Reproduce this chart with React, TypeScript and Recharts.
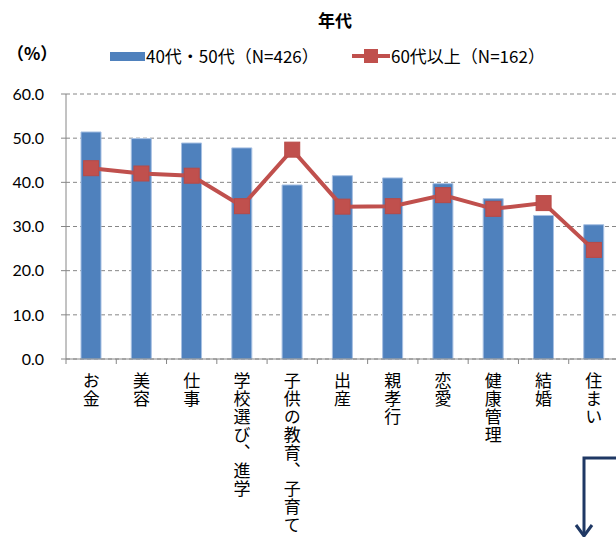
import React from 'react';
import { ComposedChart, Bar, Line, XAxis, YAxis, CartesianGrid } from 'recharts';

// 年代別（%）
const categories = ['お金', '美容', '仕事', '学校選び、進学', '子供の教育、子育て', '出産', '親孝行', '恋愛', '健康管理', '結婚', '住まい'];
const age4050 = [51.4, 49.9, 48.9, 47.8, 39.4, 41.5, 41.0, 39.7, 36.3, 32.5, 30.4];
const age60plus = [43.2, 42.0, 41.5, 34.6, 47.4, 34.5, 34.6, 37.1, 34.0, 35.3, 24.7];
const yTicks = [0, 10, 20, 30, 40, 50, 60];

const seriesNames = ['40代・50代（N=426）', '60代以上（N=162）'];

const data = categories.map((name, i) => ({
  name,
  a: age4050[i],
  b: age60plus[i],
}));

const BLUE = '#4F81BD';
const RED = '#C0504D';
const AXIS = '#868686';
const JP = '"Noto Sans CJK JP", "Noto Sans", sans-serif';
const NUM = 'Lato, "Noto Sans", sans-serif';

const SquareDot = (props: any) => {
  const { cx, cy } = props;
  if (cx == null || cy == null) return null;
  return <rect x={cx - 7.5} y={cy - 7.5} width={15} height={15} fill={RED} stroke="#B84A47" strokeWidth={1} />;
};

const XTick = (props: any) => {
  const { x, y, payload } = props;
  const half = payload && payload.offset ? payload.offset : 25;
  return (
    <g>
      <line x1={x - half} y1={y - 7} x2={x - half} y2={y - 2} stroke={AXIS} strokeWidth={1} />
      <text
        x={x}
        y={y + 6}
        fill="#000"
        fontSize={17}
        fontFamily={JP}
        style={{ writingMode: 'vertical-rl', letterSpacing: '1px' } as any}
      >
        {payload.value}
      </text>
    </g>
  );
};

const legendText: React.CSSProperties = {
  position: 'absolute',
  top: 44,
  fontFamily: JP,
  fontSize: 17,
  lineHeight: '24px',
  color: '#000',
  whiteSpace: 'nowrap',
};

const App: React.FC = () => {
  return (
    <div style={{ position: 'fixed', left: 0, top: 0, width: 616, height: 537, overflow: 'hidden', background: '#fff' }}>
      <div style={{ position: 'absolute', left: 0, width: 670, top: 7, textAlign: 'center', fontFamily: JP, fontSize: 17, fontWeight: 'bold', color: '#000' }}>
        年代
      </div>
      <div style={{ position: 'absolute', left: 7, top: 40, fontFamily: JP, fontSize: 17, fontWeight: 'bold', color: '#000' }}>
        （%）
      </div>
      {/* legend */}
      <span style={{ position: 'absolute', left: 110, top: 52, width: 35, height: 9, background: BLUE }} />
      <span style={{ ...legendText, left: 146 }}>{seriesNames[0]}</span>
      <svg width={40} height={16} style={{ position: 'absolute', left: 351, top: 48 }}>
        <line x1={1} y1={8} x2={39} y2={8} stroke={RED} strokeWidth={4} />
        <rect x={13} y={1} width={14} height={14} fill={RED} />
      </svg>
      <span style={{ ...legendText, left: 391 }}>{seriesNames[1]}</span>

      <ComposedChart
        width={630}
        height={537}
        data={data}
        margin={{ top: 94, right: 11, bottom: 0, left: 0 }}
        barSize={20}
      >
        <CartesianGrid vertical={false} stroke={AXIS} strokeDasharray="4 3" />
        <XAxis
          dataKey="name"
          interval={0}
          height={178}
          axisLine={{ stroke: AXIS }}
          tickLine={false}
          tickSize={5}
          tickMargin={2}
          tick={<XTick />}
        />
        <YAxis
          width={66}
          domain={[0, 60]}
          ticks={yTicks}
          interval={0}
          axisLine={{ stroke: AXIS }}
          tickLine={{ stroke: AXIS }}
          tickSize={5}
          tickMargin={17}
          tickFormatter={(v: number) => v.toFixed(1)}
          tick={{ fill: '#000', fontSize: 16, fontFamily: NUM }}
        />
        <Bar dataKey="a" fill={BLUE} stroke="#A7C0E3" strokeWidth={1} isAnimationActive={false} />
        <Line
          dataKey="b"
          stroke={RED}
          strokeWidth={4}
          dot={<SquareDot />}
          activeDot={false}
          isAnimationActive={false}
        />
      </ComposedChart>

      {/* annotation arrow */}
      <svg width={616} height={537} style={{ position: 'absolute', left: 0, top: 0, pointerEvents: 'none' }}>
        <path d="M616 458 H584 V535" fill="none" stroke="#1F3864" strokeWidth={3} />
        <path d="M576 525 L584 536 L592 525" fill="none" stroke="#1F3864" strokeWidth={3} />
      </svg>
    </div>
  );
};

export default App;
